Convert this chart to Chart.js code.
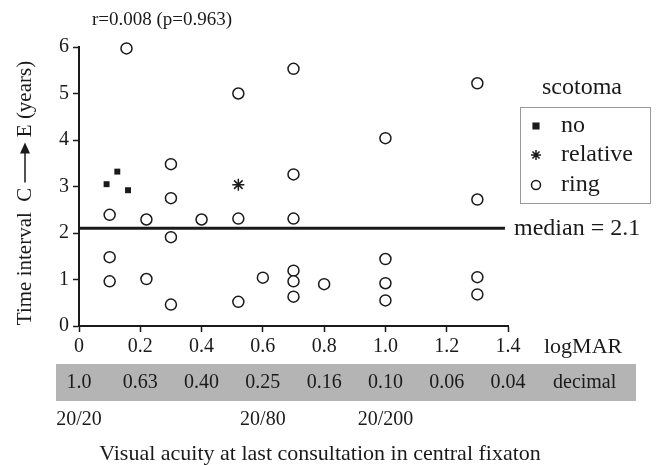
<!DOCTYPE html>
<html>
<head>
<meta charset="utf-8">
<script src="https://cdn.jsdelivr.net/npm/chart.js@4/dist/chart.umd.min.js"></script>
<style>
  html, body { margin: 0; padding: 0; background: #fff; }
  #wrap { width: 658px; height: 465px; }
</style>
</head>
<body>
<div id="wrap"><canvas id="chart" width="658" height="465"></canvas></div>
<script>
// scotoma "no" (filled squares)
const noX = [0.09, 0.125, 0.16];
const noY = [3.05, 3.32, 2.92];
// scotoma "relative" (asterisk)
const relX = [0.52];
const relY = [3.04];
// scotoma "ring" (open circles)
const ringX = [0.1, 0.1, 0.1, 0.155, 0.22, 0.22, 0.3, 0.3, 0.3, 0.3, 0.4, 0.52, 0.52, 0.52, 0.6,
               0.7, 0.7, 0.7, 0.7, 0.7, 0.7, 0.8, 1.0, 1.0, 1.0, 1.0, 1.3, 1.3, 1.3, 1.3];
const ringY = [2.39, 1.48, 0.96, 5.97, 2.29, 1.01, 3.48, 2.75, 1.91, 0.46, 2.29, 5.0, 2.31, 0.52, 1.04,
               5.53, 3.26, 2.31, 1.19, 0.96, 0.63, 0.9, 4.04, 1.44, 0.92, 0.55, 5.22, 2.72, 1.05, 0.68];

const median = 2.1;
const medianEnd = 1.39;

const xTicks = [0, 0.2, 0.4, 0.6, 0.8, 1.0, 1.2, 1.4];
const xTickLabels = ['0', '0.2', '0.4', '0.6', '0.8', '1.0', '1.2', '1.4'];
const yTicks = [0, 1, 2, 3, 4, 5, 6];
const decimalLabels = ['1.0', '0.63', '0.40', '0.25', '0.16', '0.10', '0.06', '0.04'];
const snellenAt = [0, 0.6, 1.0];
const snellenLabels = ['20/20', '20/80', '20/200'];

const SERIF = '"Liberation Serif", "Times New Roman", serif';
const INK = '#1a1a1a';

function pts(xs, ys) {
    return xs.map((x, i) => ({ x: x, y: ys[i] }));
}

// textes, légende et bandeau du bas
const extras = {
    id: 'extras',
    afterDraw(chart) {
        const ctx = chart.ctx;
        const xs = chart.scales.x;
        const ys = chart.scales.y;
        ctx.save();
        ctx.fillStyle = INK;

        // r / p en haut
        ctx.font = '19px ' + SERIF;
        ctx.textAlign = 'center';
        ctx.textBaseline = 'middle';
        ctx.fillText('r=0.008 (p=0.963)', 162, 20);

        // label médiane
        ctx.font = '24px ' + SERIF;
        ctx.textAlign = 'left';
        ctx.fillText('median = ' + median, 514, ys.getPixelForValue(median));

        // légende
        ctx.textAlign = 'center';
        ctx.fillText('scotoma', 582, 88);
        ctx.strokeStyle = '#999';
        ctx.lineWidth = 1;
        ctx.strokeRect(520.5, 107.5, 130, 96);
        const items = [
            { label: 'no', style: 'rect', r: 4, fill: INK, y: 126 },
            { label: 'relative', style: 'star', r: 5, fill: INK, y: 155 },
            { label: 'ring', style: 'circle', r: 4.5, fill: '#fff', y: 185 }
        ];
        ctx.textAlign = 'left';
        items.forEach(it => {
            ctx.fillStyle = it.fill;
            ctx.strokeStyle = INK;
            ctx.lineWidth = 1.5;
            Chart.helpers.drawPoint(ctx, { pointStyle: it.style, radius: it.r, borderWidth: 1.5 }, 536, it.y);
            ctx.fillStyle = INK;
            ctx.fillText(it.label, 561, it.y);
        });

        // logMAR
        ctx.font = '22px ' + SERIF;
        ctx.fillText('logMAR', 544, 347);

        // bandeau décimal
        ctx.fillStyle = '#b4b4b4';
        ctx.fillRect(56, 364, 580, 37);
        ctx.fillStyle = INK;
        ctx.font = '20px ' + SERIF;
        ctx.textAlign = 'center';
        xTicks.forEach((v, i) => {
            ctx.fillText(decimalLabels[i], xs.getPixelForValue(v), 383);
        });
        ctx.textAlign = 'left';
        ctx.fillText('decimal', 553, 383);

        // Snellen
        ctx.textAlign = 'center';
        snellenAt.forEach((v, i) => {
            ctx.fillText(snellenLabels[i], xs.getPixelForValue(v), 420);
        });

        // titre axe x
        ctx.font = '22px ' + SERIF;
        ctx.fillText('Visual acuity at last consultation in central fixaton', 320, 454);

        // titre axe y (avec flèche)
        ctx.translate(25, 193);
        ctx.rotate(-Math.PI / 2);
        ctx.font = '21px ' + SERIF;
        ctx.textAlign = 'left';
        const t1 = 'Time interval  C ';
        const t2 = ' E (years)';
        const arrowLen = 40;
        const w1 = ctx.measureText(t1).width;
        const w2 = ctx.measureText(t2).width;
        let x0 = -(w1 + arrowLen + w2) / 2;
        ctx.fillText(t1, x0, 0);
        const ax = x0 + w1;
        ctx.strokeStyle = INK;
        ctx.lineWidth = 1.5;
        ctx.beginPath();
        ctx.moveTo(ax, 0);
        ctx.lineTo(ax + arrowLen - 8, 0);
        ctx.stroke();
        ctx.beginPath();
        ctx.moveTo(ax + arrowLen, 0);
        ctx.lineTo(ax + arrowLen - 11, -5);
        ctx.lineTo(ax + arrowLen - 11, 5);
        ctx.closePath();
        ctx.fill();
        ctx.fillText(t2, ax + arrowLen, 0);

        ctx.restore();
    }
};

const ctx = document.getElementById('chart').getContext('2d');
new Chart(ctx, {
    type: 'scatter',
    data: {
        datasets: [
            {
                label: 'median',
                type: 'line',
                data: [{ x: 0, y: median }, { x: medianEnd, y: median }],
                borderColor: INK,
                borderWidth: 3,
                pointRadius: 0,
                fill: false,
                clip: false
            },
            {
                label: 'ring',
                data: pts(ringX, ringY),
                pointStyle: 'circle',
                pointRadius: 5.5,
                pointBorderWidth: 1.5,
                pointBorderColor: INK,
                pointBackgroundColor: '#fff',
                clip: false
            },
            {
                label: 'no',
                data: pts(noX, noY),
                pointStyle: 'rect',
                pointRadius: 4.2,
                pointBorderWidth: 0,
                pointBorderColor: INK,
                pointBackgroundColor: INK,
                clip: false
            },
            {
                label: 'relative',
                data: pts(relX, relY),
                pointStyle: 'star',
                pointRadius: 6,
                pointBorderWidth: 1.5,
                pointBorderColor: INK,
                pointBackgroundColor: INK,
                clip: false
            }
        ]
    },
    options: {
        responsive: false,
        animation: false,
        layout: { padding: { left: 0, top: 47, right: 150, bottom: 0 } },
        plugins: {
            legend: { display: false },
            tooltip: { enabled: false }
        },
        scales: {
            x: {
                type: 'linear',
                min: 0,
                max: 1.4,
                afterFit: s => { s.height = 139; },
                afterBuildTicks: s => { s.ticks = xTicks.map(v => ({ value: v })); },
                grid: { display: true, drawOnChartArea: false, drawTicks: true, tickLength: 6, tickColor: INK, tickWidth: 1.5 },
                border: { display: true, color: INK, width: 2 },
                ticks: {
                    callback: (v, i) => xTickLabels[i],
                    font: { family: SERIF, size: 20 },
                    color: INK,
                    padding: 3,
                    maxRotation: 0
                }
            },
            y: {
                type: 'linear',
                min: 0,
                max: 6,
                afterFit: s => { s.width = 79; },
                afterBuildTicks: s => { s.ticks = yTicks.map(v => ({ value: v })); },
                grid: { display: true, drawOnChartArea: false, drawTicks: true, tickLength: 6, tickColor: INK, tickWidth: 1.5 },
                border: { display: true, color: INK, width: 2 },
                ticks: {
                    font: { family: SERIF, size: 20 },
                    color: INK,
                    padding: 4
                }
            }
        }
    },
    plugins: [extras]
});
</script>
</body>
</html>
